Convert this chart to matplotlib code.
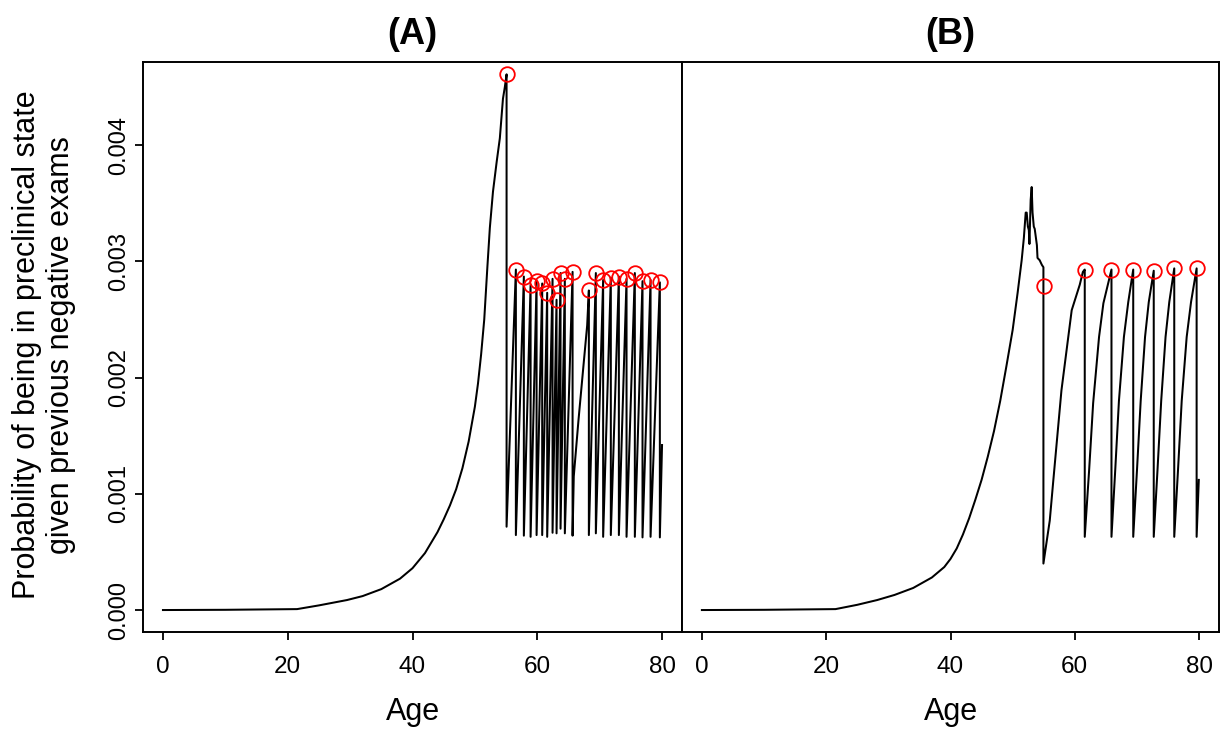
import matplotlib
matplotlib.use('Agg')
import matplotlib.pyplot as plt
import numpy as np

plt.rcParams['font.family'] = ['Liberation Sans', 'DejaVu Sans']

# --- Data (probabilities in units of 1e-3) ---
# Panel A: before first exam
pre_age_a = [0, 10, 21.5, 25, 29.5, 32, 35, 38, 40, 42, 44, 45, 46, 47, 48, 49, 50,
             50.5, 51, 51.5, 52, 52.4, 52.9, 53.5, 54.0, 54.5, 54.8, 55.08]
pre_val_a = [0, 0.002, 0.008, 0.04, 0.086, 0.12, 0.18, 0.27, 0.36, 0.49, 0.67, 0.78, 0.90,
             1.04, 1.22, 1.45, 1.75, 1.95, 2.2, 2.5, 2.95, 3.29, 3.6, 3.86, 4.06, 4.4, 4.5, 4.61]
# Panel A: exam ages, value just before each exam (circles) and just after
exam_age_a = [55.08, 56.57, 57.85, 58.93, 59.89, 60.79, 61.59, 62.45, 63.09, 63.73, 64.42,
              65.66, 68.27, 69.39, 70.56, 71.79, 73.08, 74.31, 75.64, 76.87, 78.16, 79.65]
peak_a = [4.61, 2.93, 2.87, 2.80, 2.83, 2.81, 2.73, 2.85, 2.67, 2.90, 2.85,
          2.91, 2.75, 2.90, 2.84, 2.86, 2.87, 2.85, 2.90, 2.83, 2.84, 2.82]
bottom_a = [0.717, 0.645, 0.64, 0.63, 0.645, 0.645, 0.63, 0.665, 0.66, 0.70, 0.66,
            0.64, 0.645, 0.66, 0.63, 0.645, 0.645, 0.63, 0.63, 0.625, 0.63, 0.625]
# Panel A: the longer gap without exams (65.66 -> 68.27)
gap_age_a = [65.85, 66.6, 67.4, 68.0]
gap_val_a = [1.15, 1.63, 2.1, 2.45]
end_age_a, end_val_a = 80.0, 1.42

# Panel B: before first exam
pre_age_b = [0, 10, 21.5, 25, 28.2, 31, 34, 37, 39, 40, 41, 42, 43, 44, 45, 46, 47, 48, 49,
             50, 50.8, 51.45, 51.8, 52.1, 52.26, 52.45, 52.6, 52.7, 52.9, 53.06, 53.2, 53.4,
             53.55, 53.9, 54.0, 54.35, 54.7, 54.95]
pre_val_b = [0, 0.002, 0.008, 0.045, 0.086, 0.13, 0.19, 0.28, 0.37, 0.44, 0.53, 0.65, 0.79,
             0.95, 1.12, 1.32, 1.54, 1.80, 2.10, 2.41, 2.73, 3.01, 3.20, 3.42, 3.42, 3.30,
             3.27, 3.15, 3.53, 3.64, 3.42, 3.30, 3.28, 3.14, 3.03, 3.01, 2.97, 2.95]
# Panel B: after first exam
post_age_b = [54.95, 55.97, 56.5, 57.85, 59.5, 60.8, 61.3, 61.6,
              61.6, 62.3, 62.95, 63.9, 64.6, 65.9,
              65.9, 66.5, 67.1, 67.9, 68.6, 69.4,
              69.4, 70.0, 70.6, 71.3, 71.9, 72.7,
              72.7, 73.3, 73.9, 74.6, 75.2, 76.0,
              76.0, 76.6, 77.2, 78.0, 78.7, 79.6,
              79.6, 79.95]
post_val_b = [0.40, 0.77, 1.09, 1.89, 2.58, 2.80, 2.91, 2.93,
              0.63, 1.20, 1.78, 2.35, 2.64, 2.93,
              0.63, 1.20, 1.80, 2.35, 2.65, 2.93,
              0.63, 1.20, 1.80, 2.35, 2.65, 2.92,
              0.63, 1.20, 1.80, 2.35, 2.65, 2.94,
              0.63, 1.20, 1.80, 2.35, 2.65, 2.94,
              0.63, 1.12]
circ_age_b = [55.05, 61.6, 65.9, 69.4, 72.7, 76.0, 79.6]
circ_val_b = [2.79, 2.93, 2.93, 2.93, 2.92, 2.94, 2.94]

x_ticks = [0, 20, 40, 60, 80]
y_ticks = [0.000, 0.001, 0.002, 0.003, 0.004]

# --- Assemble panel A line from the read values ---
line_age_a = list(pre_age_a)
line_val_a = list(pre_val_a)
for i in range(len(exam_age_a)):
    line_age_a.append(exam_age_a[i])
    line_val_a.append(bottom_a[i])
    if exam_age_a[i] == 65.66:
        line_age_a += gap_age_a
        line_val_a += gap_val_a
    if i + 1 < len(exam_age_a):
        line_age_a.append(exam_age_a[i + 1])
        line_val_a.append(peak_a[i + 1])
line_age_a.append(end_age_a)
line_val_a.append(end_val_a)

line_age_b = pre_age_b + post_age_b
line_val_b = pre_val_b + post_val_b

# --- Canvas ---
W, H = 1225, 731
fig = plt.figure(figsize=(W / 100, H / 100), dpi=100)

def box(l, r, t, b):
    return [l / W, 1 - b / H, (r - l) / W, (b - t) / H]

ax_a = fig.add_axes(box(143, 682, 62, 632))
ax_b = fig.add_axes(box(682, 1219, 62, 632))

LW = 1.45
ax_a.plot(line_age_a, np.array(line_val_a) * 1e-3, color='black', lw=LW, zorder=2)
ax_a.plot(exam_age_a, np.array(peak_a) * 1e-3, 'o', mfc='none', mec='red', ms=10.5, mew=1.3, zorder=3)

ax_b.plot(line_age_b, np.array(line_val_b) * 1e-3, color='black', lw=LW, zorder=2)
ax_b.plot(circ_age_b, np.array(circ_val_b) * 1e-3, 'o', mfc='none', mec='red', ms=10.5, mew=1.3, zorder=3)

for ax in (ax_a, ax_b):
    ax.set_xlim(-3.2, 83.2)
    ax.set_ylim(-0.189e-3, 4.716e-3)
    ax.set_xticks(x_ticks)
    ax.set_xticklabels([str(t) for t in x_ticks])
    for s in ax.spines.values():
        s.set_linewidth(1.4)
    ax.tick_params(axis='x', direction='out', length=6, width=1.3, labelsize=17.5, pad=11)

ax_a.set_yticks(y_ticks)
ax_a.set_yticklabels(['%.3f' % t for t in y_ticks], rotation=90, va='center')
ax_a.tick_params(axis='y', direction='out', length=6, width=1.3, labelsize=17, pad=3)
ax_b.set_yticks([])

# --- Labels ---
fig.text(412.5 / W, 1 - 35 / H, '(A)', ha='center', va='center', fontsize=26, fontweight='bold')
fig.text(950.5 / W, 1 - 35 / H, '(B)', ha='center', va='center', fontsize=26, fontweight='bold')
fig.text(412.5 / W, 1 - 712 / H, 'Age', ha='center', va='center', fontsize=22)
fig.text(950.5 / W, 1 - 712 / H, 'Age', ha='center', va='center', fontsize=22)
fig.text(44 / W, 1 - 345 / H, 'Probability of being in preclinical state\ngiven previous negative exams',
         rotation=90, ha='center', va='center', fontsize=22, linespacing=1.2)

fig.savefig('out.png', dpi=100)
plt.close(fig)
